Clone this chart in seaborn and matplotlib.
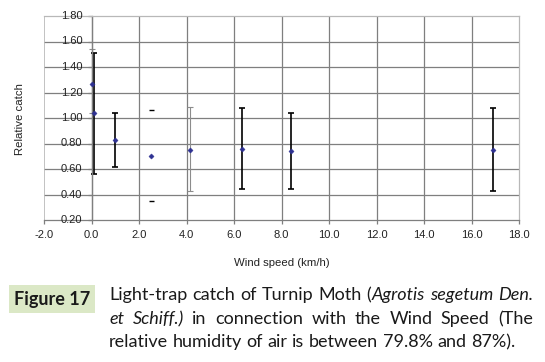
import numpy as np
import pandas as pd
import matplotlib
matplotlib.use("Agg")
import matplotlib.pyplot as plt
from matplotlib.patches import Rectangle
from matplotlib.transforms import offset_copy
import seaborn as sns

# -----------------------------
# DATA
# -----------------------------
wind_speed = [0.0, 0.1, 1.0, 2.5, 4.15, 6.35, 8.4, 16.9]
rel_catch = [1.27, 1.04, 0.825, 0.70, 0.75, 0.757, 0.741, 0.751]
err_low = [1.04, 0.56, 0.613, 0.347, 0.425, 0.441, 0.441, 0.425]
err_high = [1.54, 1.51, 1.037, 1.063, 1.084, 1.076, 1.037, 1.076]
# how each error bar is drawn in the original: black bar, thin grey bar, caps only
bar_style = ["grey", "black", "black", "caps", "grey", "black", "black", "black"]

x_ticks = [-2.0, 0.0, 2.0, 4.0, 6.0, 8.0, 10.0, 12.0, 14.0, 16.0, 18.0]
y_ticks = [0.2, 0.4, 0.6, 0.8, 1.0, 1.2, 1.4, 1.6, 1.8]

df = pd.DataFrame({"wind": wind_speed, "catch": rel_catch,
                   "lo": err_low, "hi": err_high, "style": bar_style})

# -----------------------------
# FIGURE
# -----------------------------
sns.set_style("white")
plt.rcParams["font.family"] = ["Liberation Sans", "DejaVu Sans"]

W, H = 545, 362
fig = plt.figure(figsize=(W / 100, H / 100), dpi=100)
ax = fig.add_axes([44 / W, 1 - 220 / H, (519 - 44) / W, (220 - 16) / H])

ax.set_xlim(-2, 18)
ax.set_ylim(0.2, 1.8)

grid_c = "#7f7f7f"
border_c = "#b8b8b8"
txt_c = "#222222"
for xv in x_ticks[1:-1]:
    ax.axvline(xv, color=grid_c, lw=0.9, zorder=0)
for yv in y_ticks[1:-1]:
    ax.axhline(yv, color=grid_c, lw=0.9, zorder=0)

# outer frame: light grey, bottom darker, y axis crosses at x=0
ax.spines["top"].set_color(border_c)
ax.spines["right"].set_color(border_c)
ax.spines["bottom"].set_color(grid_c)
ax.spines["left"].set_position(("data", 0))
ax.spines["left"].set_color(grid_c)
ax.axvline(-2, color=border_c, lw=1.2, zorder=0)
for sp in ax.spines.values():
    sp.set_linewidth(0.9)

# error bars
for _, r in df.iterrows():
    yerr = [[r["catch"] - r["lo"]], [r["hi"] - r["catch"]]]
    if r["style"] == "black":
        ax.errorbar(r["wind"], r["catch"], yerr=yerr, fmt="none", ecolor="black",
                    elinewidth=1.2, capsize=2.2, capthick=1.2, zorder=2)
    elif r["style"] == "grey":
        ax.errorbar(r["wind"], r["catch"], yerr=yerr, fmt="none", ecolor="#8c8c8c",
                    elinewidth=0.8, capsize=2.2, capthick=0.8, zorder=2)
    else:
        ax.errorbar(r["wind"], r["catch"], yerr=yerr, fmt="none", ecolor="black",
                    elinewidth=0, capsize=1.8, capthick=1.0, zorder=2)

sns.scatterplot(data=df, x="wind", y="catch", ax=ax, marker="D", s=7,
                color="#2e3192", edgecolor="#2e3192", linewidth=0.3, zorder=3,
                legend=False)

ax.set_xticks(x_ticks)
ax.set_xticklabels([f"{v:.1f}" for v in x_ticks])
ax.set_yticks(y_ticks)
ax.set_yticklabels([])
ax.tick_params(axis="both", labelsize=8, labelcolor=txt_c, color=grid_c,
               direction="out", length=3, width=0.9)
ax.tick_params(axis="y", left=True)
ax.tick_params(axis="x", pad=4, bottom=True)

# y tick labels sit just left of the y axis at x = 0
lab_tr = offset_copy(ax.transData, fig=fig, x=-6.5, y=0, units="points")
for yv in y_ticks:
    ax.text(0, yv, f"{yv:.2f}", transform=lab_tr, ha="right", va="center",
            fontsize=8, color=txt_c, clip_on=False)

ax.set_xlabel("Wind speed (km/h)", fontsize=8.2, color=txt_c, labelpad=13)
ax.set_ylabel("")
fig.text(20 / W, 1 - 119 / H, "Relative catch", rotation=90, fontsize=8.2,
         color=txt_c, ha="center", va="center")

# -----------------------------
# CAPTION (justified, word by word)
# -----------------------------
fig.canvas.draw()
renderer = fig.canvas.get_renderer()
cap_font = "Lato"
cap_color = "#1a1a1a"


def text_width(s, fs, italic=False, weight="normal"):
    t = fig.text(0, 0, s, fontsize=fs, family=cap_font,
                 style="italic" if italic else "normal", weight=weight)
    w = t.get_window_extent(renderer).width
    t.remove()
    return w


line3 = "relative humidity of air is between 79.8% and 87%)."
fs = 12 * (515 - 109) / text_width(line3, 12)

caption_lines = [
    [[("Light-trap", False)], [("catch", False)], [("of", False)], [("Turnip", False)],
     [("Moth", False)], [("(", False), ("Agrotis", True)], [("segetum", True)],
     [("Den.", True)]],
    [[("et", True)], [("Schiff.)", True)], [("in", False)], [("connection", False)],
     [("with", False)], [("the", False)], [("Wind", False)], [("Speed", False)],
     [("(The", False)]],
    [[(w, False)] for w in line3.split(" ")],
]
line_y = [295, 319, 342]
justify = [True, True, False]
x_left, x_right = 109, 533
space_w = text_width("a a", fs) - text_width("aa", fs)

for tokens, y_px, just in zip(caption_lines, line_y, justify):
    widths = [sum(text_width(s, fs, it) for s, it in tok) for tok in tokens]
    if just:
        gap = (x_right - x_left - sum(widths)) / (len(tokens) - 1)
    else:
        gap = space_w
    x = x_left
    for tok, w in zip(tokens, widths):
        xx = x
        for s, it in tok:
            fig.text(xx / W, 1 - y_px / H, s, fontsize=fs, family=cap_font,
                     style="italic" if it else "normal", color=cap_color,
                     ha="left", va="center")
            xx += text_width(s, fs, it)
        x += w + gap

fig.add_artist(Rectangle((9 / W, 1 - 313 / H), (95 - 9) / W, (313 - 285) / H,
                         transform=fig.transFigure, facecolor="#dbe8c6",
                         edgecolor="none", zorder=0))
fig.text(52 / W, 1 - 299 / H, "Figure 17", fontsize=fs, family=cap_font,
         weight="bold", color=cap_color, ha="center", va="center")

fig.savefig("out.png", dpi=100)
